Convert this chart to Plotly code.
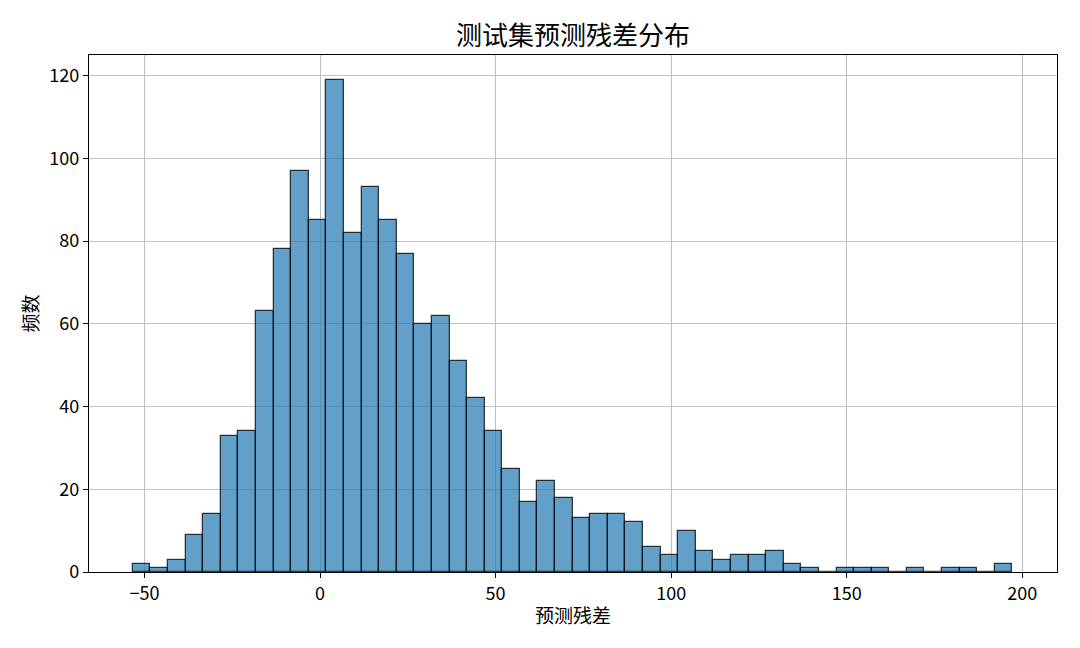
import plotly.graph_objects as go

# histogram of test-set residuals (50 bins)
bin_start = -53.3
bin_width = 5.01
counts = [2, 1, 3, 9, 14, 33, 34, 63, 78, 97,
          85, 119, 82, 93, 85, 77, 60, 62, 51, 42,
          34, 25, 17, 22, 18, 13, 14, 14, 12, 6,
          4, 10, 5, 3, 4, 4, 5, 2, 1, 0,
          1, 1, 1, 0, 1, 0, 1, 1, 0, 2]
x_ticks = [-50, 0, 50, 100, 150, 200]
y_ticks = [0, 20, 40, 60, 80, 100, 120]

centers = [bin_start + bin_width * (i + 0.5) for i in range(len(counts))]

FONT = "Noto Sans CJK SC, Liberation Sans, sans-serif"

fig = go.Figure(go.Bar(
    x=centers, y=counts, width=bin_width,
    marker=dict(color="rgba(31,119,180,0.7)",
                line=dict(color="rgba(0,0,0,0.75)", width=1.3)),
    showlegend=False,
))

# page body adds ~8px offset, margins compensate for it
fig.update_layout(
    width=1080, height=648,
    margin=dict(l=81, r=31, t=47, b=84),
    paper_bgcolor="white", plot_bgcolor="white",
    font=dict(family=FONT, color="black", size=18),
    title=dict(text="测试集预测残差分布", xref="paper", x=0.5, xanchor="center",
               y=0.957, yanchor="middle", font=dict(size=26)),
    bargap=0,
)
fig.update_xaxes(
    range=[-65.8, 209.9], tickvals=x_ticks,
    ticktext=[str(v).replace("-", "\u2212") for v in x_ticks],
    showgrid=True, gridcolor="#c0c0c0", gridwidth=1.3,
    showline=True, linecolor="black", linewidth=1.3, mirror=True,
    ticks="outside", ticklen=5, tickcolor="black", zeroline=False,
    title=dict(text="预测残差", font=dict(size=19), standoff=5),
)
fig.update_yaxes(
    range=[0, 125], tickvals=y_ticks,
    showgrid=True, gridcolor="#c0c0c0", gridwidth=1.3,
    showline=True, linecolor="black", linewidth=1.3, mirror=True,
    ticks="outside", ticklen=5, tickcolor="black", zeroline=False,
    title=dict(text="频数", font=dict(size=19), standoff=5),
)

fig.write_html("out.html")
